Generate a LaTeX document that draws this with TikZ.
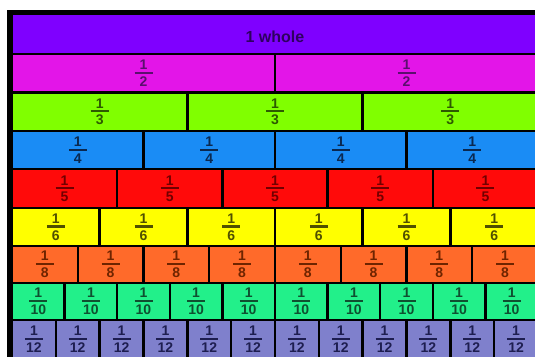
\documentclass[tikz,border=0pt]{standalone}
\usepackage{fontspec}
\setmainfont{Liberation Sans}
\definecolor{cWhole}{HTML}{7F00FF}\definecolor{tWhole}{HTML}{2E0060}
\definecolor{cHalf}{HTML}{E315E8}\definecolor{tHalf}{HTML}{5A0F6E}
\definecolor{cThird}{HTML}{80FF00}\definecolor{tThird}{HTML}{2D5A00}
\definecolor{cQuarter}{HTML}{1A8CF5}\definecolor{tQuarter}{HTML}{0A2850}
\definecolor{cFifth}{HTML}{FF0A0A}\definecolor{tFifth}{HTML}{700000}
\definecolor{cSixth}{HTML}{FFFF00}\definecolor{tSixth}{HTML}{505000}
\definecolor{cEighth}{HTML}{FF6A2A}\definecolor{tEighth}{HTML}{6E2400}
\definecolor{cTenth}{HTML}{22F08A}\definecolor{tTenth}{HTML}{0F5030}
\definecolor{cTwelfth}{HTML}{7F80CC}\definecolor{tTwelfth}{HTML}{1E1E50}
\newcommand\frc[1]{\fontsize{14}{15}\selectfont\bfseries\vbox{\offinterlineskip\halign{\hfil##\hfil\cr 1\cr\noalign{\kern2pt}\rule{18pt}{2.2pt}\cr\noalign{\kern2.6pt}#1\cr}}}
\tikzset{
  cell/.style={draw=black, line width=2.4pt, inner sep=0pt, outer sep=0pt, anchor=north west},
  frame/.style={draw=black, line width=5pt}
}
\begin{document}
\begin{tikzpicture}[x=1pt,y=-1pt]
\useasboundingbox (0,0) rectangle (535,356);
\fill[white] (0,0) rectangle (535,356);
\begin{scope}
\clip (0,0) rectangle (535,356);
\node[cell, fill=cWhole, text=tWhole, minimum width=526pt, minimum height=40pt,
  font=\bfseries\fontsize{16}{17}\selectfont] (whole) at (12,14) {\raisebox{-9pt}[0pt][0pt]{1 whole}};
\foreach \n/\ya/\yb/\fc/\tc/\nm in {2/54/92.5/cHalf/tHalf/h, 3/92.5/131/cThird/tThird/t,
  4/131/169/cQuarter/tQuarter/q, 5/169/208/cFifth/tFifth/f, 6/208/246/cSixth/tSixth/s,
  8/246/283/cEighth/tEighth/e, 10/283/320/cTenth/tTenth/d, 12/320/358/cTwelfth/tTwelfth/tw} {
  \pgfmathsetmacro\cellw{526/\n}
  \pgfmathsetmacro\cellh{\yb-\ya}
  \foreach \i in {1,...,\n} {
    \node[cell, fill=\fc, text=\tc, minimum width=\cellw pt, minimum height=\cellh pt]
      (\nm\i) at ({12+(\i-1)*\cellw}, \ya) {\frc{\n}};
  }
}
\end{scope}
\draw[frame] (9.5,362) -- (9.5,12.5) -- (540,12.5);
\end{tikzpicture}
\end{document}
